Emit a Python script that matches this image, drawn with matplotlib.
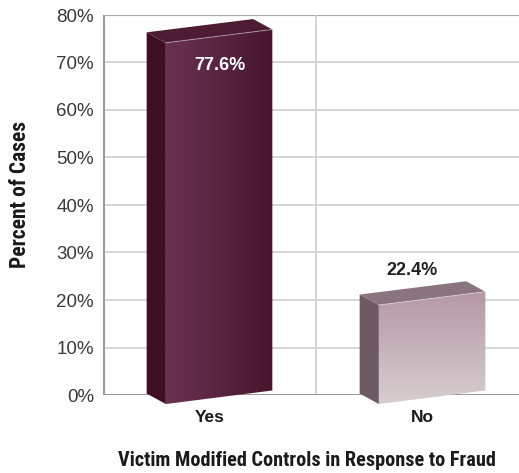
import numpy as np
import matplotlib
matplotlib.use("Agg")
import matplotlib.pyplot as plt
from matplotlib.patches import Polygon
from matplotlib.colors import LinearSegmentedColormap

categories = ["Yes", "No"]
values = [77.6, 22.4]
yticks = [0, 10, 20, 30, 40, 50, 60, 70, 80]
ytick_labels = ["0%", "10%", "20%", "30%", "40%", "50%", "60%", "70%", "80%"]
value_labels = ["77.6%", "22.4%"]
xlabel = "Victim Modified Controls in Response to Fraud"
ylabel = "Percent of Cases"

W, H = 519, 473
fig = plt.figure(figsize=(W / 100, H / 100), dpi=100)
left_px, right_px, top_px, bot_px = 103, 529, 15, 395
ax = fig.add_axes([left_px / W, 1 - bot_px / H, (right_px - left_px) / W, (bot_px - top_px) / H])
ax.set_xlim(0, 2)
ax.set_ylim(0, 80)
for s in ax.spines.values():
    s.set_visible(False)

NARROW = ["Liberation Sans Narrow", "Roboto Condensed", "Liberation Sans", "DejaVu Sans"]
REG = ["Liberation Sans", "DejaVu Sans"]

# grid
for t in yticks[1:-1]:
    ax.axhline(t, color="#cfcfcf", lw=1.2, zorder=0)
ax.axhline(80, color="#a8a8a8", lw=1.6, zorder=0)
ax.axvline(1, color="#cfcfcf", lw=1.2, zorder=0)
ax.axhline(0, color="#9a9a9a", lw=2.2, zorder=1)
ax.axvline(0, color="#9a9a9a", lw=2.2, zorder=1)

ax.set_yticks(yticks)
ax.set_yticklabels(ytick_labels, fontsize=13.5, color="#3a3a3a", family=REG)
ax.tick_params(axis="y", length=0, pad=6.5)
ax.set_xticks([])

# 3D bar geometry (style)
fl, fr = -0.205, 0.295     # front face offsets from center
dx, dy = -0.09, 2.2        # depth offset
b_l, b_r = -1.9, 0.95      # bottom of front face (left/right)
t_l, t_r = -3.45, -0.65    # top of front face relative to value

front_cmaps = [
    LinearSegmentedColormap.from_list("yf", ["#6b3150", "#58253f", "#46162c"]),
    LinearSegmentedColormap.from_list("nf", ["#b498a5", "#c5b3ba", "#d8cdcf"]),
]
side_cols = ["#3e0f23", "#6e5a65"]
top_cols = ["#4c1c32", "#8a7480"]
front_dirs = ["h", "v"]

def grad_fill(poly_xy, cmap, direction, z):
    poly = Polygon(poly_xy, closed=True, facecolor="none", edgecolor="none")
    ax.add_patch(poly)
    xs = [p[0] for p in poly_xy]
    ys = [p[1] for p in poly_xy]
    if direction == "h":
        g = np.linspace(0, 1, 256).reshape(1, -1)
        origin = "lower"
    else:
        g = np.linspace(0, 1, 256).reshape(-1, 1)
        origin = "upper"
    im = ax.imshow(g, cmap=cmap, aspect="auto", origin=origin,
                   extent=[min(xs), max(xs), min(ys), max(ys)], zorder=z,
                   interpolation="bilinear")
    im.set_clip_box(fig.bbox)
    im.set_clip_path(poly)

for i, (cat, v) in enumerate(zip(categories, values)):
    c = 0.5 + i
    FLB = (c + fl, b_l); FRB = (c + fr, b_r)
    FLT = (c + fl, v + t_l); FRT = (c + fr, v + t_r)
    BLB = (FLB[0] + dx, FLB[1] + dy); BLT = (FLT[0] + dx, FLT[1] + dy)
    BRT = (FRT[0] + dx, FRT[1] + dy)
    side = Polygon([BLB, FLB, FLT, BLT], closed=True, facecolor=side_cols[i],
                   edgecolor="none", zorder=3, clip_on=False)
    ax.add_patch(side)
    top = Polygon([FLT, FRT, BRT, BLT], closed=True, facecolor=top_cols[i],
                  edgecolor="none", zorder=3, clip_on=False)
    ax.add_patch(top)
    grad_fill([FLB, FRB, FRT, FLT], front_cmaps[i], front_dirs[i], 4)
    ax.plot([FLT[0], FRT[0]], [FLT[1], FRT[1]], color="#ffffff", alpha=0.35, lw=0.8,
            zorder=5, clip_on=False)
    ax.text(c, -3.1, cat, ha="center", va="top", fontsize=12.5, fontweight="bold",
            color="#1a1a1a", family=REG, clip_on=False)

# value labels
ax.text(0.5 + 0.05, values[0] - 8.3, value_labels[0], ha="center", va="center",
        fontsize=13, fontweight="bold", color="white", family=REG, zorder=6)
ax.text(1.5 - 0.05, values[1] + 3.9, value_labels[1], ha="center", va="center",
        fontsize=13, fontweight="bold", color="#222222", family=REG, zorder=6)

fig.text(307 / W, 1 - 460 / H, xlabel, ha="center", va="center", fontsize=14.6,
         fontweight="bold", color="#1a1a1a", family=NARROW)
fig.text(20 / W, 1 - 194 / H, ylabel, ha="center", va="center", rotation=90,
         fontsize=15.5, fontweight="bold", color="#1a1a1a", family=NARROW)

fig.savefig("out.png", dpi=100)
